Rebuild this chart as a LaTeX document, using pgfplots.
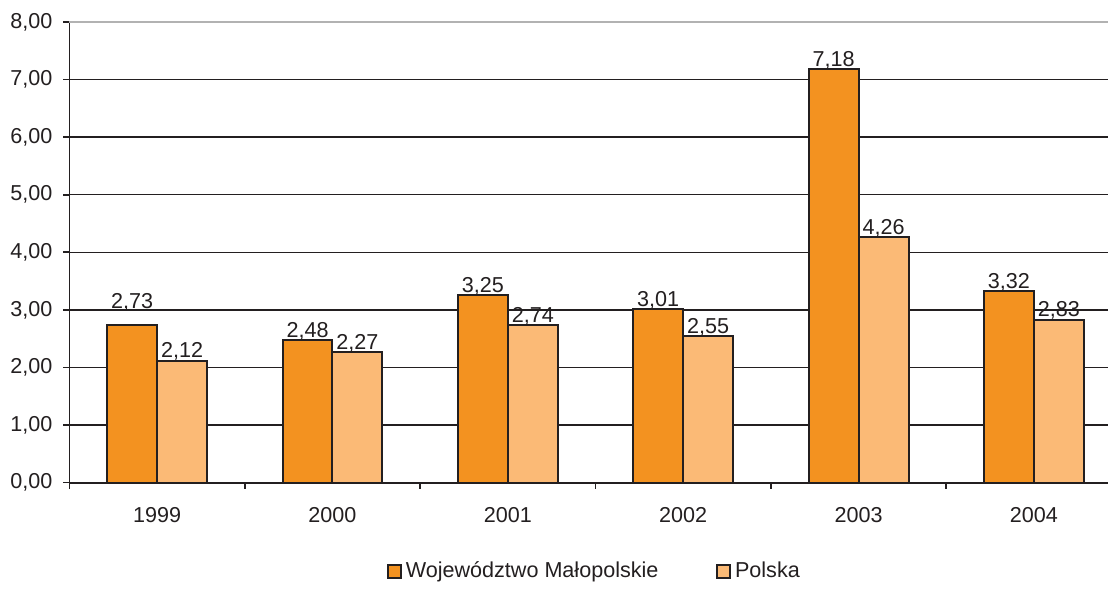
\documentclass[border=0pt]{standalone}
\usepackage{pgfplots}
\pgfplotsset{compat=1.18}
\usepackage{fontspec}
\setmainfont{Liberation Sans}
\definecolor{orangeA}{HTML}{F39220}
\definecolor{orangeB}{HTML}{FBBA76}
\definecolor{txt}{HTML}{231F20}
\pgfplotsset{sq legend/.style={legend image code/.code={\draw[##1, line width=0.8pt] (0pt,-3.25pt) rectangle (6.5pt,3.25pt);}}}
\begin{document}
\begin{tikzpicture}
\begin{axis}[
  scale only axis, width=519.75pt, height=230.5pt,
  xmin=-0.5, xmax=5.423, ymin=0, ymax=8,
  axis x line*=bottom, axis y line*=left,
  axis line style={txt, line width=0.9pt, -},
  ybar=0pt, bar width=25pt,
  xtick={0,...,5}, xticklabels={1999,2000,2001,2002,2003,2004},
  major x tick style={draw=none},
  minor xtick={-0.5,0.5,1.5,2.5,3.5,4.5},
  minor x tick style={txt, line width=0.8pt},
  minor tick length=3pt,
  ytick={0,...,7}, extra y ticks={8},
  extra y tick style={grid style={gray!60, line width=0.8pt}},
  tick align=outside, major tick length=3pt,
  y tick style={txt, line width=0.8pt},
  ymajorgrids, grid style={txt, line width=0.7pt},
  tick label style={font=\fontsize{10.8}{12}\selectfont, text=txt},
  /pgf/number format/assume math mode=true,
  y tick label style={xshift=-2pt, /pgf/number format/.cd, fixed, fixed zerofill, precision=2, use comma},
  xticklabel style={yshift=-6pt},
  nodes near coords={\pgfmathprintnumber[fixed,fixed zerofill,precision=2,use comma,assume math mode=true]{\pgfplotspointmeta}},
  every node near coord/.append style={font=\fontsize{10.8}{12}\selectfont, text=txt, anchor=south, inner sep=0pt, yshift=-0.5pt},
  legend style={at={(0.5065,0)}, anchor=center, yshift=-44.5pt, draw=none,
    font=\fontsize{10.8}{12}\selectfont, text=txt,
    /tikz/every even column/.append style={column sep=27pt}},
  legend columns=2,
]
\addplot[fill=orangeA, draw=txt, line width=1pt, sq legend,
  coordinate style/.condition={\coordindex==0}{yshift=7pt}] coordinates {(0,2.73) (1,2.48) (2,3.25) (3,3.01) (4,7.18) (5,3.32)};
\addplot[fill=orangeB, draw=txt, line width=1pt, sq legend] coordinates {(0,2.12) (1,2.27) (2,2.74) (3,2.55) (4,4.26) (5,2.83)};
\legend{Województwo Małopolskie, Polska}
\end{axis}
\path[use as bounding box] ([xshift=-34.75pt,yshift=-49pt]current axis.south west) rectangle ([yshift=11pt]current axis.north east);
\end{tikzpicture}
\end{document}
